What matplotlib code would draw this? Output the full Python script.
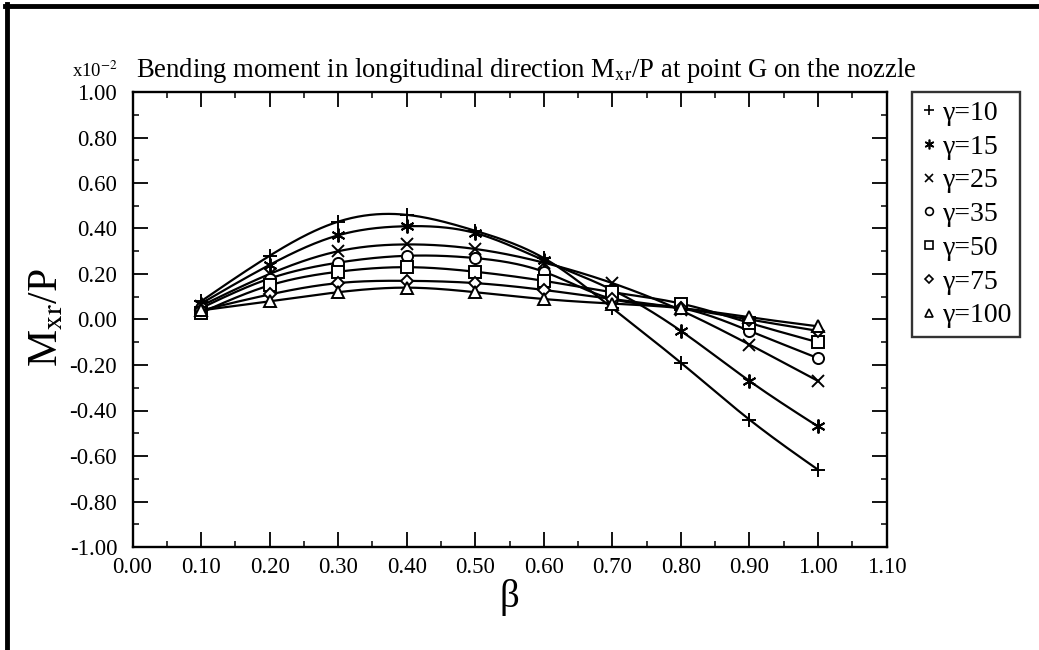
#!/usr/bin/env python3

# Bending moment M_xr/P at point G on the nozzle vs beta
import numpy as np
import matplotlib
matplotlib.use('Agg')
import matplotlib.pyplot as plt
from matplotlib.lines import Line2D
from matplotlib.ticker import MultipleLocator, FormatStrFormatter

plt.rcParams['font.family'] = ['Liberation Serif', 'DejaVu Serif']
plt.rcParams['mathtext.fontset'] = 'stix'
plt.rcParams['axes.unicode_minus'] = False

# data (values are x10^-2)
beta = [0.1, 0.2, 0.3, 0.4, 0.5, 0.6, 0.7, 0.8, 0.9, 1.0]
gammas = ['10', '15', '25', '35', '50', '75', '100']
m_g10 = [0.08, 0.28, 0.43, 0.46, 0.39, 0.27, 0.05, -0.19, -0.44, -0.66]
m_g15 = [0.07, 0.24, 0.37, 0.41, 0.38, 0.26, 0.13, -0.05, -0.27, -0.47]
m_g25 = [0.06, 0.20, 0.30, 0.33, 0.31, 0.25, 0.16, 0.04, -0.11, -0.27]
m_g35 = [0.05, 0.18, 0.25, 0.28, 0.27, 0.21, 0.09, 0.05, -0.05, -0.17]
m_g50 = [0.03, 0.15, 0.21, 0.23, 0.21, 0.17, 0.12, 0.07, -0.015, -0.10]
m_g75 = [0.04, 0.11, 0.16, 0.17, 0.16, 0.13, 0.09, 0.05, 0.00, -0.05]
m_g100 = [0.04, 0.08, 0.12, 0.14, 0.12, 0.09, 0.07, 0.05, 0.01, -0.03]
series = [m_g10, m_g15, m_g25, m_g35, m_g50, m_g75, m_g100]
markers = ['+', (6, 2, 0), 'x', 'o', 's', 'D', '^']
msizes = [10, 10, 9, 8, 8, 6, 8]


def smooth(x, y, n=300):
    # natural cubic spline through the points, only used to draw the curve
    x = np.asarray(x, float)
    y = np.asarray(y, float)
    k = len(x)
    h = np.diff(x)
    A = np.zeros((k, k))
    r = np.zeros(k)
    A[0, 0] = A[-1, -1] = 1
    for i in range(1, k - 1):
        A[i, i - 1] = h[i - 1]
        A[i, i] = 2 * (h[i - 1] + h[i])
        A[i, i + 1] = h[i]
        r[i] = 6 * ((y[i + 1] - y[i]) / h[i] - (y[i] - y[i - 1]) / h[i - 1])
    M = np.linalg.solve(A, r)
    xs = np.linspace(x[0], x[-1], n)
    j = np.clip(np.searchsorted(x, xs) - 1, 0, k - 2)
    t0 = x[j + 1] - xs
    t1 = xs - x[j]
    hj = h[j]
    ys = (M[j] * t0 ** 3 + M[j + 1] * t1 ** 3) / (6 * hj) \
        + (y[j] / hj - M[j] * hj / 6) * t0 + (y[j + 1] / hj - M[j + 1] * hj / 6) * t1
    return xs, ys


W, H = 1039, 650
fig = plt.figure(figsize=(W / 100, H / 100), dpi=100)
ax = fig.add_axes([132.5 / W, 1 - 547 / H, 754 / W, 455 / H])

handles = []
for vals, mk, ms, g in zip(series, markers, msizes, gammas):
    xs, ys = smooth(beta, vals)
    ax.plot(xs, ys, '-', color='black', lw=1.6)
    ax.plot(beta, vals, linestyle='none', marker=mk, ms=ms, mfc='white',
            mec='black', mew=1.4, color='black')
    handles.append(Line2D([], [], linestyle='none', marker=mk, ms=ms * 0.7,
                          mfc='white', mec='black', mew=1.2,
                          label='\u03b3=' + g))

ax.set_xlim(0, 1.1)
ax.set_ylim(-1.0, 1.0)
ax.xaxis.set_major_locator(MultipleLocator(0.1))
ax.xaxis.set_minor_locator(MultipleLocator(0.05))
ax.yaxis.set_major_locator(MultipleLocator(0.2))
ax.yaxis.set_minor_locator(MultipleLocator(0.1))
ax.xaxis.set_major_formatter(FormatStrFormatter('%.2f'))
ax.yaxis.set_major_formatter(FormatStrFormatter('%.2f'))
ax.tick_params(which='both', direction='in', top=True, right=True,
               labelsize=16.5, color='black')
ax.tick_params(which='major', length=11, width=1.3)
ax.tick_params(which='minor', length=4.5, width=1.1)
ax.tick_params(axis='y', pad=11)
ax.tick_params(axis='x', pad=7)
for sp in ax.spines.values():
    sp.set_linewidth(1.7)

fig.text(136 / W, 1 - 77 / H,
         'Bending moment in longitudinal direction M$_{\\mathrm{xr}}$/P at point G on the nozzle',
         fontsize=19.2, ha='left', va='baseline')
fig.text(72 / W, 1 - 77 / H, 'x10$^{-2}$', fontsize=13.5, ha='left', va='baseline')
fig.text(47 / W, 1 - 318 / H, 'M$_{\\mathrm{xr}}$/P', fontsize=30,
         rotation=90, ha='center', va='center')
fig.text(509.5 / W, 1 - 597 / H, '\u03b2', fontsize=28, ha='center', va='center')

leg = fig.legend(handles=handles, loc='upper left',
                 bbox_to_anchor=(912 / W, 1 - 92 / H), bbox_transform=fig.transFigure,
                 fontsize=20, frameon=True, fancybox=False, borderpad=0.3,
                 labelspacing=0.3, handlelength=0.6, handletextpad=0.2,
                 borderaxespad=0)
leg.get_frame().set_edgecolor('black')
leg.get_frame().set_linewidth(1.7)

# page border (top and left edges)
fig.add_artist(Line2D([5 / W, 1], [1 - 6 / H, 1 - 6 / H], color='black', lw=3.5,
                      transform=fig.transFigure))
fig.add_artist(Line2D([7 / W, 7 / W], [0, 1 - 4 / H], color='black', lw=3.5,
                      transform=fig.transFigure))

fig.savefig('out.png', dpi=100)
